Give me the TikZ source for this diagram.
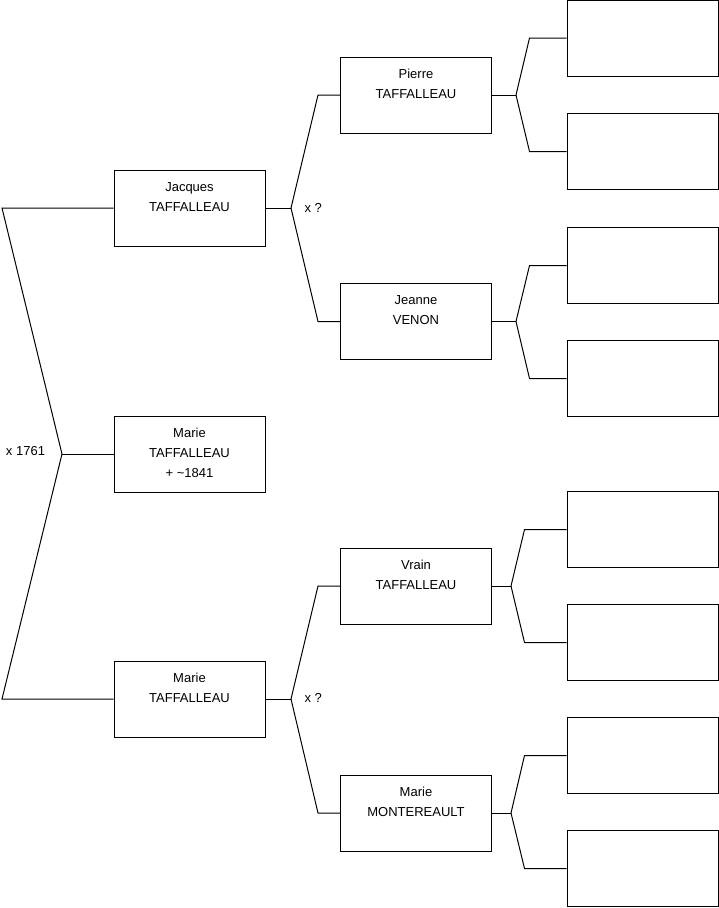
\documentclass[tikz,border=0pt]{standalone}
\usepackage{fontspec}
\setmainfont{Liberation Sans}
\newcommand{\boxtext}[1]{\parbox[c][76pt][t]{150pt}{\centering
  \fontsize{13pt}{20pt}\selectfont\rule{0pt}{21pt}#1}}

\begin{document}
\begin{tikzpicture}[
  x=1pt, y=-1pt,
  line width=1pt,
  box/.style={draw, inner sep=0pt, minimum width=151pt, minimum height=76pt},
  lbl/.style={inner sep=0pt, font=\fontsize{13pt}{15pt}\selectfont},
]
  \useasboundingbox (0,0) rectangle (719,908);
  % Person
  \node[box] (marie) at (189.5,454) {\boxtext{Marie\\TAFFALLEAU\\+ \textasciitilde1841}};
  % Parents
  \node[box] (jacques) at (189.5,208) {\boxtext{Jacques\\TAFFALLEAU}};
  \node[box] (mother) at (189.5,699) {\boxtext{Marie\\TAFFALLEAU}};
  % Grandparents
  \node[box] (pierre) at (416,95) {\boxtext{Pierre\\TAFFALLEAU}};
  \node[box] (jeanne) at (416,321.5) {\boxtext{Jeanne\\VENON}};
  \node[box] (vrain) at (416,586) {\boxtext{Vrain\\TAFFALLEAU}};
  \node[box] (montereault) at (416,813) {\boxtext{Marie\\MONTEREAULT}};
  % Great-grandparents (empty)
  \node[box] (gg1) at (642.5,38) {};
  \node[box] (gg2) at (642.5,151.5) {};
  \node[box] (gg3) at (642.5,265.5) {};
  \node[box] (gg4) at (642.5,378.5) {};
  \node[box] (gg5) at (642.5,529.5) {};
  \node[box] (gg6) at (642.5,642.5) {};
  \node[box] (gg7) at (642.5,755.5) {};
  \node[box] (gg8) at (642.5,868.5) {};
  % Fork points
  \coordinate (fmarie) at (62,454);
  \coordinate (fjacques) at (291,208);
  \coordinate (fmother) at (291,699);
  \coordinate (fpierre) at (516,95);
  \coordinate (fjeanne) at (516,321.5);
  \coordinate (fvrain) at (511,586);
  \coordinate (fmontereault) at (511,813);
  % Marriage labels
  \node[lbl, anchor=east] (m1761) at (45.5,451) {x 1761};
  \node[lbl, anchor=west] (mjacques) at (304,207.5) {x ?};
  \node[lbl, anchor=west] (mmother) at (304,698) {x ?};
  % Connectors
  \draw (marie.west) -- (fmarie);
  \draw (fmarie) -- (2,208) -- (jacques.west);
  \draw (fmarie) -- (2,699) -- (mother.west);
  \draw (jacques.east) -- (fjacques);
  \draw (fjacques) -- ([xshift=-22pt]pierre.west) -- (pierre.west);
  \draw (fjacques) -- ([xshift=-22pt]jeanne.west) -- (jeanne.west);
  \draw (mother.east) -- (fmother);
  \draw (fmother) -- ([xshift=-22pt]vrain.west) -- (vrain.west);
  \draw (fmother) -- ([xshift=-22pt]montereault.west) -- (montereault.west);
  \draw (pierre.east) -- (fpierre);
  \draw (fpierre) -- ([xshift=-37pt]gg1.west) -- (gg1.west);
  \draw (fpierre) -- ([xshift=-37pt]gg2.west) -- (gg2.west);
  \draw (jeanne.east) -- (fjeanne);
  \draw (fjeanne) -- ([xshift=-37pt]gg3.west) -- (gg3.west);
  \draw (fjeanne) -- ([xshift=-37pt]gg4.west) -- (gg4.west);
  \draw (vrain.east) -- (fvrain);
  \draw (fvrain) -- ([xshift=-42pt]gg5.west) -- (gg5.west);
  \draw (fvrain) -- ([xshift=-42pt]gg6.west) -- (gg6.west);
  \draw (montereault.east) -- (fmontereault);
  \draw (fmontereault) -- ([xshift=-42pt]gg7.west) -- (gg7.west);
  \draw (fmontereault) -- ([xshift=-42pt]gg8.west) -- (gg8.west);
\end{tikzpicture}
\end{document}
